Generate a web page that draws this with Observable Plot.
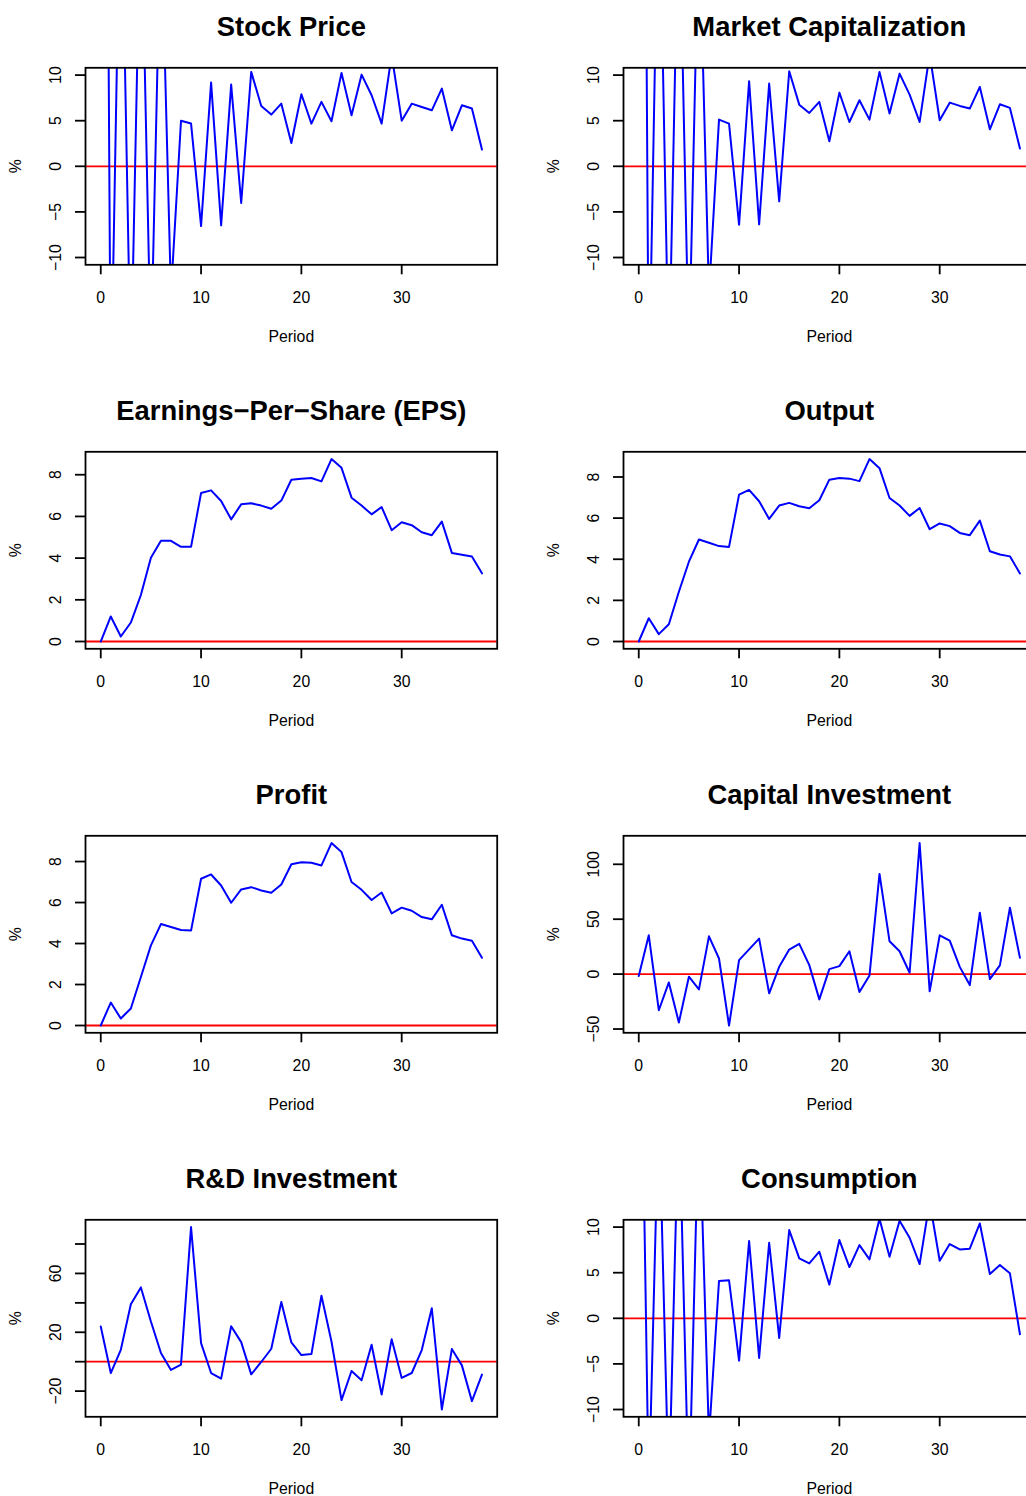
<!DOCTYPE html>
<html>
<head>
<meta charset="utf-8">
<script src="https://cdn.jsdelivr.net/npm/d3@7"></script>
<script src="https://cdn.jsdelivr.net/npm/@observablehq/plot@0.6"></script>
<style>
  html, body { margin: 0; padding: 0; background: #fff; overflow: hidden; width: 1026px; height: 1496px; }
  #wrap { position: relative; width: 1075px; height: 1536px; }
  .panel { position: absolute; }
</style>
</head>
<body>
<div id="wrap"></div>
<script>
// ---------- data ----------
const period = [0,1,2,3,4,5,6,7,8,9,10,11,12,13,14,15,16,17,18,19,20,21,22,23,24,25,26,27,28,29,30,31,32,33,34,35,36,37,38];

const stockPrice = [150, -26, 35, -23, 31, -21, 28, -14, 5.0, 4.7, -6.55, 9.18, -6.47, 8.96, -4.02, 10.35, 6.62, 5.67, 6.87, 2.56, 7.9, 4.68, 7.06, 4.94, 10.24, 5.59, 10.05, 7.79, 4.68, 12.2, 5.0, 6.87, 6.5, 6.14, 8.52, 3.95, 6.69, 6.33, 1.83];
const marketCap = [148, -25.5, 34.5, -22.8, 31, -21, 28, -14, 5.12, 4.68, -6.4, 9.32, -6.36, 9.07, -3.84, 10.42, 6.76, 5.85, 7.06, 2.74, 8.08, 4.86, 7.24, 5.12, 10.35, 5.78, 10.16, 7.86, 4.86, 12.3, 5.05, 6.98, 6.62, 6.33, 8.7, 4.06, 6.8, 6.4, 1.94];
const eps = [0, 1.2, 0.24, 0.91, 2.23, 4.02, 4.83, 4.83, 4.54, 4.54, 7.12, 7.25, 6.74, 5.86, 6.58, 6.63, 6.52, 6.37, 6.76, 7.76, 7.81, 7.84, 7.68, 8.75, 8.33, 6.9, 6.52, 6.1, 6.45, 5.34, 5.72, 5.58, 5.24, 5.1, 5.75, 4.25, 4.16, 4.08, 3.27];
const output = [0, 1.13, 0.36, 0.84, 2.42, 3.88, 4.96, 4.8, 4.64, 4.6, 7.14, 7.37, 6.82, 5.96, 6.61, 6.74, 6.58, 6.48, 6.87, 7.87, 7.95, 7.92, 7.8, 8.87, 8.43, 6.98, 6.61, 6.11, 6.49, 5.46, 5.74, 5.61, 5.28, 5.17, 5.88, 4.39, 4.23, 4.14, 3.31];
const profit = [0, 1.12, 0.34, 0.83, 2.37, 3.91, 4.95, 4.81, 4.66, 4.63, 7.16, 7.37, 6.83, 5.99, 6.64, 6.75, 6.59, 6.48, 6.88, 7.87, 7.97, 7.94, 7.81, 8.9, 8.46, 7.0, 6.62, 6.12, 6.49, 5.47, 5.75, 5.6, 5.29, 5.18, 5.89, 4.4, 4.24, 4.14, 3.31];
const capitalInvestment = [-1.8, 35.3, -32.9, -7.6, -44.1, -2.4, -13.9, 34.4, 14.2, -46.8, 12.7, 22.5, 32.3, -17.5, 6.6, 22.4, 27.5, 8.2, -23, 4.5, 7.3, 20.8, -16.3, -1.2, 91.2, 29.9, 20.8, 1.2, 119.3, -15.7, 35.3, 30.5, 6.6, -10, 55.9, -4.5, 7.9, 60.4, 14.8];
const rdInvestment = [23.9, -7.7, 8.1, 39, 50.5, 27.3, 5.9, -5.6, -2, 91.5, 12.6, -7.7, -11.5, 24.1, 13.3, -8.6, -0.2, 8.8, 40.6, 13.1, 4.5, 5.2, 44.8, 13.7, -26.1, -6.3, -12.6, 11.5, -22.3, 15.3, -11, -7.7, 7.9, 36.3, -32.5, 8.6, -2.5, -26.8, -8.8];
const consumption = [50, -19.3, 23.6, -19.4, 23.7, -20.4, 23.5, -13, 4.09, 4.16, -4.64, 8.47, -4.34, 8.28, -2.15, 9.67, 6.57, 6.02, 7.3, 3.69, 8.58, 5.62, 8.03, 6.46, 10.9, 6.75, 10.69, 8.83, 5.95, 12.8, 6.31, 8.14, 7.55, 7.63, 10.4, 4.85, 5.84, 4.93, -1.75];

const titles = ["Stock Price", "Market Capitalization", "Earnings\u2212Per\u2212Share (EPS)", "Output", "Profit", "Capital Investment", "R&D Investment", "Consumption"];
const series = [stockPrice, marketCap, eps, output, profit, capitalInvestment, rdInvestment, consumption];
const yLimits = [[-10, 10], [-10, 10], null, null, null, null, null, [-10, 10]];

const xTicks = [0, 10, 20, 30];
const ticksTen = [-10, -5, 0, 5, 10];
const ticksGrowth = [0, 2, 4, 6, 8];
const ticksCapital = [-50, 0, 50, 100];
const ticksRD = [-20, 0, 20, 40, 60, 80];
const labelsRD = [-20, 20, 60];
const yTicks = [ticksTen, ticksTen, ticksGrowth, ticksGrowth, ticksGrowth, ticksCapital, ticksRD, ticksTen];
const yLabelled = [ticksTen, ticksTen, ticksGrowth, ticksGrowth, ticksGrowth, ticksCapital, labelsRD, ticksTen];

const xLabel = "Period";
const yLabel = "%";

// ---------- drawing ----------
const W = 537.5, H = 384;
const fmt = d3.format("");
const FONT = "'Liberation Sans', Arial, Helvetica, sans-serif";
const AXIS_FS = 15.8;
const wrap = document.getElementById("wrap");

series.forEach((values, i) => {
  const col = i % 2, row = Math.floor(i / 2);
  const data = period.map((t, j) => ({t, v: values[j]}));
  const [lo, hi] = yLimits[i] ?? d3.extent(values);
  const pad = (hi - lo) * 0.04;
  const xlo = d3.min(period), xhi = d3.max(period), xpad = (xhi - xlo) * 0.04;
  const labelled = yLabelled[i];
  const chart = Plot.plot({
    width: W,
    height: H,
    marginLeft: 85,
    marginRight: 40.8,
    marginTop: 67.3,
    marginBottom: 119.7,
    style: {fontFamily: FONT, fontSize: AXIS_FS + "px", color: "black", background: "white", overflow: "visible"},
    x: {domain: [xlo - xpad, xhi + xpad], label: null},
    y: {domain: [lo - pad, hi + pad], label: null},
    marks: [
      Plot.ruleY([0], {stroke: "#ff0000", strokeWidth: 1.8}),
      Plot.line(data, {x: "t", y: "v", stroke: "#0000ff", strokeWidth: 2, clip: true}),
      Plot.frame({stroke: "black", strokeWidth: 1.8}),
      Plot.axisX(xTicks, {tickSize: 10, tickPadding: 16.5, fontSize: AXIS_FS, strokeWidth: 1.8, label: null, tickFormat: fmt}),
      Plot.axisY(yTicks[i], {tickSize: 10, tickPadding: 14.5, tickRotate: -90, fontSize: AXIS_FS, strokeWidth: 1.8, label: null,
        tickFormat: d => labelled.includes(d) ? fmt(d) : ""}),
      Plot.text([titles[i]], {frameAnchor: "top", lineAnchor: "middle", textAnchor: "middle", dy: -40.8, fontSize: 27.4, fontWeight: "bold", fill: "black"}),
      Plot.text([xLabel], {frameAnchor: "bottom", lineAnchor: "middle", textAnchor: "middle", dy: 71.7, fontSize: AXIS_FS, fill: "black"}),
      Plot.text([yLabel], {frameAnchor: "left", lineAnchor: "middle", textAnchor: "middle", dx: -69.5, rotate: -90, fontSize: AXIS_FS, fill: "black"})
    ]
  });
  chart.classList.add("panel");
  chart.style.left = (col * W) + "px";
  chart.style.top = (row * H) + "px";
  wrap.appendChild(chart);
});
</script>
</body>
</html>
